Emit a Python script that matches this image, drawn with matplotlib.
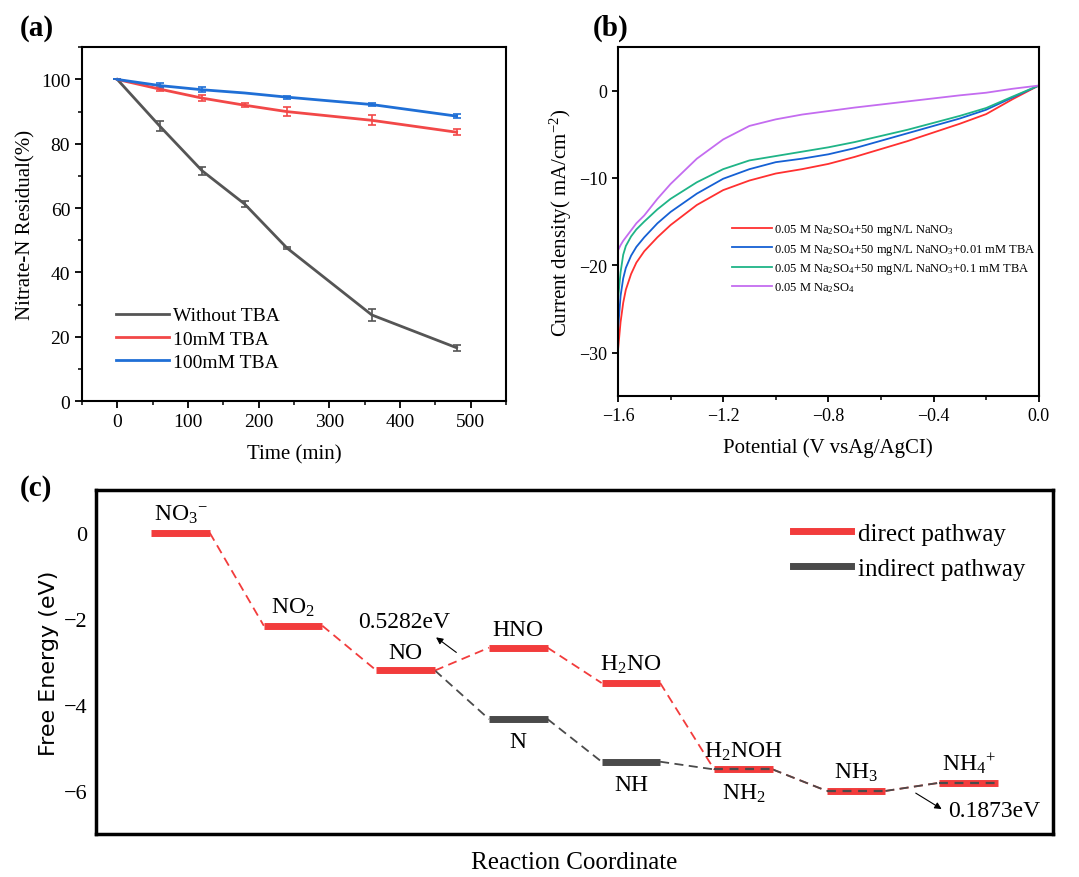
import numpy as np
import matplotlib
matplotlib.use("Agg")
import matplotlib.pyplot as plt
from matplotlib.lines import Line2D

plt.rcParams['font.family'] = ['Liberation Serif', 'DejaVu Serif']
plt.rcParams['mathtext.fontset'] = 'custom'
plt.rcParams['mathtext.rm'] = 'Liberation Serif'
plt.rcParams['mathtext.it'] = 'Liberation Serif:italic'
plt.rcParams['axes.unicode_minus'] = True

# ---------------- data (a) ----------------
time_min = [0, 60, 120, 180, 240, 360, 480]
without_tba = [100, 85.5, 71.6, 61.3, 47.6, 26.8, 16.6]
without_err = [0, 1.5, 1.2, 1.0, 0.3, 1.8, 1.0]
tba_10 = [100, 97.0, 94.2, 92.0, 90.0, 87.3, 83.6]
tba_10_err = [0, 0.6, 1.0, 0.7, 1.5, 1.5, 1.0]
tba_100 = [100, 98.1, 96.8, 95.8, 94.5, 92.2, 88.6]
tba_100_err = [0, 0.8, 0.8, 0.0, 0.5, 0.5, 0.6]
series_a_labels = ['Without TBA', '10mM TBA', '100mM TBA']

# ---------------- data (b) ----------------
potential = [0.0, -0.1, -0.2, -0.3, -0.4, -0.5, -0.6, -0.7, -0.8, -0.9, -1.0,
             -1.1, -1.2, -1.3, -1.4, -1.45, -1.5, -1.53, -1.55, -1.57, -1.58, -1.59, -1.6]
j_nano3 = [0.57, -1.0, -2.7, -3.8, -4.8, -5.8, -6.7, -7.6, -8.4, -9.0, -9.5,
           -10.3, -11.4, -13.1, -15.4, -16.8, -18.4, -19.7, -21.0, -22.8, -24.3, -26.5, -29.8]
j_tba001 = [0.57, -0.8, -2.2, -3.2, -4.05, -4.9, -5.75, -6.6, -7.3, -7.8, -8.2,
            -9.0, -10.1, -11.8, -13.9, -15.2, -16.8, -17.9, -18.9, -20.3, -21.5, -23.5, -27.5]
j_tba01 = [0.57, -0.7, -2.0, -2.9, -3.7, -4.5, -5.2, -5.9, -6.5, -7.0, -7.5,
           -8.0, -9.0, -10.5, -12.4, -13.6, -15.0, -15.9, -16.7, -17.8, -18.8, -20.8, -24.0]
j_na2so4 = [0.57, 0.2, -0.25, -0.55, -0.9, -1.25, -1.6, -1.95, -2.35, -2.75, -3.3,
            -4.05, -5.6, -7.8, -10.7, -12.4, -14.3, -15.2, -16.0, -16.8, -17.2, -17.7, -18.3]
series_b_labels = [r'0.05 M Na$_2$SO$_4$+50 mgN/L NaNO$_3$',
                   r'0.05 M Na$_2$SO$_4$+50 mgN/L NaNO$_3$+0.01 mM TBA',
                   r'0.05 M Na$_2$SO$_4$+50 mgN/L NaNO$_3$+0.1 mM TBA',
                   r'0.05 M Na$_2$SO$_4$']

# ---------------- data (c) ----------------
direct_species = [r'NO$_3$$^{-}$', r'NO$_2$', 'NO', 'HNO', r'H$_2$NO', r'H$_2$NOH', r'NH$_3$', r'NH$_4$$^{+}$']
direct_pos = [1, 2, 3, 4, 5, 6, 7, 8]
direct_energy = [0.0, -2.16, -3.20, -2.67, -3.49, -5.50, -6.00, -5.81]
indirect_species = ['NO', 'N', 'NH', r'NH$_2$', r'NH$_3$', r'NH$_4$$^{+}$']
indirect_pos = [3, 4, 5, 6, 7, 8]
indirect_energy = [-3.20, -4.33, -5.32, -5.50, -6.00, -5.81]

red_c = '#f23c3c'
gray_c = '#4a4a4a'

fig = plt.figure(figsize=(10.79, 8.78), dpi=100)

# ================= (a) =================
axa = fig.add_axes([0.076, 0.542, 0.393, 0.403])
cols_a = ['#555555', '#f24848', '#1f6fd6']
for ys, es, c, lab in zip([without_tba, tba_10, tba_100],
                          [without_err, tba_10_err, tba_100_err], cols_a, series_a_labels):
    axa.errorbar(time_min, ys, yerr=es, color=c, lw=2, capsize=3, elinewidth=1.2,
                 capthick=1.2)
axa.set_xlim(-50, 550)
axa.set_ylim(0, 110)
axa.set_xticks([0, 100, 200, 300, 400, 500])
axa.set_xticks(np.arange(-50, 551, 50), minor=True)
axa.set_yticks([0, 20, 40, 60, 80, 100])
axa.set_yticks(np.arange(0, 111, 10), minor=True)
axa.tick_params(which='major', direction='out', length=5, width=1.3, labelsize=14)
axa.tick_params(which='minor', direction='out', length=3, width=1.1)
for s in axa.spines.values():
    s.set_linewidth(1.5)
axa.set_xlabel('Time (min)', fontsize=15, labelpad=10)
axa.set_ylabel('Nitrate-N Residual(%)', fontsize=15)
ha = [Line2D([], [], color=c, lw=2) for c in cols_a]
axa.legend(ha, series_a_labels, loc='lower left', bbox_to_anchor=(0.04, 0.035), frameon=False,
           fontsize=14, handlelength=2.7, handletextpad=0.2, labelspacing=0.3)
fig.text(0.018, 0.968, '(a)', fontsize=21, fontweight='bold', va='center')

# ================= (b) =================
axb = fig.add_axes([0.5727, 0.5475, 0.390, 0.398])
cols_b = ['#ff3030', '#1560d4', '#1fb487', '#c46cf0']
for ys, c, lab in zip([j_nano3, j_tba001, j_tba01, j_na2so4], cols_b, series_b_labels):
    axb.plot(potential, ys, color=c, lw=1.3, label=lab)
axb.set_xlim(-1.6, 0.0)
axb.set_ylim(-35, 5)
axb.set_xticks([-1.6, -1.2, -0.8, -0.4, 0.0])
axb.set_xticks(np.arange(-1.6, 0.01, 0.2), minor=True)
axb.set_yticks([-30, -20, -10, 0])
axb.tick_params(which='major', direction='out', length=4, width=1.3, labelsize=13)
axb.tick_params(which='minor', direction='out', length=3, width=1.1)
axb.xaxis.set_major_formatter(matplotlib.ticker.FuncFormatter(
    lambda v, p: ('\u2212%.1f' % abs(v)) if v < -1e-9 else '0.0'))
for s in axb.spines.values():
    s.set_linewidth(1.5)
axb.set_xlabel('Potential (V vsAg/AgCI)', fontsize=15, labelpad=10)
axb.set_ylabel(r'Current density( mA/cm$^{-2}$)', fontsize=15)
axb.legend(loc='lower right', bbox_to_anchor=(1.02, 0.26), frameon=False, fontsize=9,
           handlelength=3.2, handletextpad=0.2, labelspacing=0.35)
fig.text(0.549, 0.968, '(b)', fontsize=21, fontweight='bold', va='center')

# ================= (c) =================
axc = fig.add_axes([0.089, 0.049, 0.887, 0.392])
hw = 0.26
for i in range(len(direct_pos) - 1):
    axc.plot([direct_pos[i] + hw, direct_pos[i + 1] - hw],
             [direct_energy[i], direct_energy[i + 1]], color=red_c, lw=1.3, ls=(0, (5, 3)))
for i in range(len(indirect_pos) - 1):
    axc.plot([indirect_pos[i] + hw, indirect_pos[i + 1] - hw],
             [indirect_energy[i], indirect_energy[i + 1]], color=gray_c, lw=1.3, ls=(0, (5, 3)))
for p, e in zip(direct_pos, direct_energy):
    axc.plot([p - hw, p + hw], [e, e], color=red_c, lw=5, solid_capstyle='butt')
for p, e in zip(indirect_pos, indirect_energy):
    if p in (4, 5):
        axc.plot([p - hw, p + hw], [e, e], color=gray_c, lw=5, solid_capstyle='butt')
    elif p >= 6:
        axc.plot([p - hw, p + hw], [e, e], color=gray_c, lw=1.6, ls=(0, (4, 3)))

fs_c = 17
for name, p, e in zip(direct_species, direct_pos, direct_energy):
    axc.text(p, e + 0.18, name, ha='center', va='bottom', fontsize=fs_c)
for name, p, e in zip(indirect_species, indirect_pos, indirect_energy):
    if name in ('N', 'NH', r'NH$_2$'):
        axc.text(p, e - 0.28, name, ha='center', va='top', fontsize=fs_c)

axc.text(2.99, -2.05, '0.5282eV', fontsize=fs_c, ha='center', va='center')
axc.annotate('', xy=(3.27, -2.43), xytext=(3.45, -2.78),
             arrowprops=dict(arrowstyle='-|>', color='black', lw=0.8, mutation_scale=10,
                             shrinkA=0, shrinkB=0))
axc.text(8.23, -6.46, '0.1873eV', fontsize=fs_c, ha='center', va='center')
axc.annotate('', xy=(7.76, -6.42), xytext=(7.53, -6.05),
             arrowprops=dict(arrowstyle='-|>', color='black', lw=0.8, mutation_scale=10,
                             shrinkA=0, shrinkB=0))

axc.set_xlim(0.25, 8.75)
axc.set_ylim(-7, 1)
axc.set_xticks([])
axc.set_yticks([0, -2, -4, -6])
axc.tick_params(axis='y', direction='in', length=0, labelsize=16, pad=6)
for s in axc.spines.values():
    s.set_linewidth(2.5)
axc.set_xlabel('Reaction Coordinate', fontsize=18, labelpad=12)
axc.set_ylabel('Free Energy (eV)', fontsize=16, family=['DejaVu Sans'])
handles = [Line2D([], [], color=red_c, lw=5), Line2D([], [], color=gray_c, lw=5)]
axc.legend(handles, ['direct pathway', 'indirect pathway'], loc='upper right',
           bbox_to_anchor=(0.995, 0.97), frameon=False, fontsize=18,
           handlelength=2.3, handletextpad=0.3, labelspacing=0.5)
fig.text(0.018, 0.444, '(c)', fontsize=21, fontweight='bold', va='center')

fig.savefig('out.png', dpi=100)
